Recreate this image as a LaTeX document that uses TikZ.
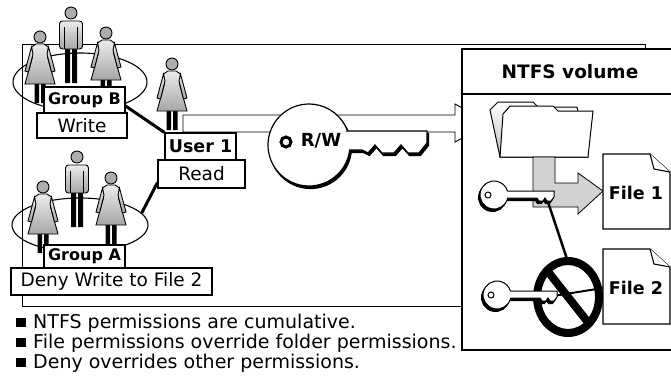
\documentclass[tikz,border=0pt]{standalone}
\usepackage{fontspec}
\setmainfont{DejaVu Sans}
\usetikzlibrary{shapes.geometric}

\tikzset{
  box/.style={draw, fill=white, line width=1.1pt, inner sep=0pt},
  lbl/.style={font=\fontsize{18.5}{22}\selectfont},
  blbl/.style={font=\fontsize{16}{20}\selectfont\bfseries},
  conn/.style={line width=3pt},
  cloth/.style={draw, line width=0.9pt, top color=gray!15, bottom color=gray!70},
  % person icons, origin = centre of the head, y pointing down
  woman/.pic={
    \fill (-5.5,46) rectangle (-1,66) (1,46) rectangle (5.5,66);
    \draw[cloth] (-4,7) -- (4,7) -- (8.5,10) -- (7.5,20) -- (15,47) -- (-15,47) -- (-7.5,20) -- (-8.5,10) -- cycle;
    \draw[cloth] (8.5,10) -- (15,34) -- (11.5,35) -- (7,17) -- cycle;
    \draw[cloth] (-8.5,10) -- (-15,34) -- (-11.5,35) -- (-7,17) -- cycle;
    \draw[fill=gray!65, line width=0.9pt] (0,0) circle (6);
  },
  man/.pic={
    \fill (-6,34) rectangle (-1,70) (1,34) rectangle (6,70);
    \draw[cloth, rounded corners=3pt] (-11.5,8) rectangle (11.5,36);
    \draw[line width=0.9pt] (-6.5,14) -- (-6.5,36) (6.5,14) -- (6.5,36);
    \draw[fill=gray!65, line width=0.9pt] (0,0) circle (6);
  },
  % small key, origin = centre of the bow
  smallkey/.pic={
    \foreach \dy/\col in {2.5/black, 0/white}
      \draw[fill=\col, line width=1pt, shift={(-0.6*\dy,\dy)}] (13.4,-4) -- (60,-4) -- (60,2) -- (57,6) -- (53,6) -- (51,3) -- (49,6) -- (45,6) -- (43,3) -- (13.7,3) arc[start angle=12.4, end angle=343.4, radius=14] -- cycle;
    \draw[line width=1pt] (-6,0) circle (3);
  }
}

\begin{document}
\begin{tikzpicture}[x=1pt, y=-1pt]
  \useasboundingbox (0,0) rectangle (671,381);

  % frame behind the users and groups
  \draw[line width=0.9pt] (22,44) rectangle (645,306);

  \node[ellipse, draw, line width=1.1pt, minimum width=134, minimum height=58] (grpB) at (80,82) {};
  \node[ellipse, draw, line width=1.1pt, minimum width=136, minimum height=54] (grpA) at (80,225) {};

  % hollow arrow towards the folder
  \draw[fill=white, line width=0.9pt] (183,132) -- (183,115) -- (455,115) -- (455,104) -- (490,123) -- (455,142) -- (455,132) -- cycle;

  % people
  \pic at (40,37) {woman};
  \pic at (71,13) {man};
  \pic at (106,33) {woman};
  \pic at (172,64) {woman};
  \pic at (43,187) {woman};
  \pic at (77,157) {man};
  \pic at (111,178) {woman};

  % labels
  \node[box, blbl, minimum width=81, minimum height=26] (gB) at (84.5,100) {Group B};
  \node[box, lbl, minimum width=90, minimum height=25] (wr) at (82,125.5) {Write};
  \node[box, blbl, font=\fontsize{17.5}{20}\selectfont\bfseries, minimum width=71, minimum height=27] (u1) at (200.5,146.5) {User 1};
  \node[box, lbl, minimum width=87, minimum height=28] (rd) at (201.5,174) {Read};
  \node[box, blbl, minimum width=81, minimum height=23] (gA) at (84.5,256.5) {Group A};
  \node[box, lbl, minimum width=201, minimum height=27] (dny) at (111.5,281.5) {Deny Write to File 2};

  \draw[conn] ([yshift=-6pt]gB.east) -- (u1.north west);
  \draw[conn] ([yshift=6pt]rd.south west) -- (grpA.11);

  % R/W key
  \foreach \dy/\col in {2.5/black, 0/white}
    \draw[fill=\col, line width=1.2pt, shift={(0.6*\dy,\dy)}] (347.5,131) -- (427,131) -- (427,143) -- (419,153) -- (408,153) -- (401,145) -- (394,153) -- (382,153) -- (375,145) -- (368,153) -- (362,150) -- (349.7,150) arc[start angle=7, end angle=340, radius=41] -- cycle;
  \draw[line width=3pt] (286,142) circle (5);
  \node[blbl, font=\fontsize{18}{20}\selectfont\bfseries] (rw) at (321,141) {R/W};

  % NTFS volume
  \draw[line width=1.3pt, fill=white] (462,49) rectangle (680,350);
  \draw[line width=1.3pt] (462,94) -- (680,94);
  \node[blbl, font=\fontsize{18.5}{20}\selectfont\bfseries] (ntfs) at (570,72) {NTFS volume};

  % folder
  \draw[line width=1pt, top color=white, bottom color=gray!50] (490,110) -- (498,102) -- (533,102) -- (538,107) -- (577,107) -- (588,157) -- (500,157) -- cycle;
  \draw[line width=1pt, fill=white] (503,114) -- (510,106) -- (553,106) -- (558,111) -- (593,111) -- (588,157) -- (500,157) -- cycle;

  % inherited permission to File 1
  \draw[line width=0.8pt, fill=gray!35] (533,157) -- (555,157) -- (555,183) -- (578,183) -- (578,173) -- (603,191) -- (578,214) -- (578,207) -- (533,207) -- cycle;

  % files
  \foreach \y/\n in {154/1, 249/2} {
    \draw[fill=white, line width=1.1pt] (603,\y) -- (650,\y) -- (670,{\y+18}) -- (670,{\y+75}) -- (603,{\y+75}) -- cycle;
    \draw[fill=white, line width=1.1pt] (650,\y) -- (654,{\y+15}) -- (670,{\y+18});
    \node[blbl, font=\fontsize{17.5}{20}\selectfont\bfseries] (file\n) at (636,{\y+39}) {File \n};
  }

  \coordinate (k1) at (547,199);
  \coordinate (k2) at (553,296);
  \coordinate (nos) at (568,297);
  \draw[line width=2.5pt] (k1) -- (nos |- 0,262);
  \draw[line width=2pt] (k2) -- (file2.west -| 603,0);

  % no entry sign
  \fill[even odd rule] (nos) ellipse [x radius=35, y radius=40] (nos) ellipse [x radius=27, y radius=32];
  \begin{scope}
    \clip (nos) ellipse [x radius=27, y radius=32];
    \draw[line width=8pt] (nos) +(-30,-38) -- +(30,38);
  \end{scope}

  \pic at (494,195) {smallkey};
  \pic at (497,295) {smallkey};

  % notes
  \foreach \t [count=\i] in {NTFS permissions are cumulative., File permissions override folder permissions., Deny overrides other permissions.} {
    \pgfmathsetmacro\ybase{308+20*\i}
    \fill (16,{\ybase-10}) rectangle (26,{\ybase-1});
    \node[lbl, font=\fontsize{19}{22}\selectfont, anchor=base west, inner sep=0pt] (note\i) at (33,\ybase) {\t};
  }
\end{tikzpicture}
\end{document}
